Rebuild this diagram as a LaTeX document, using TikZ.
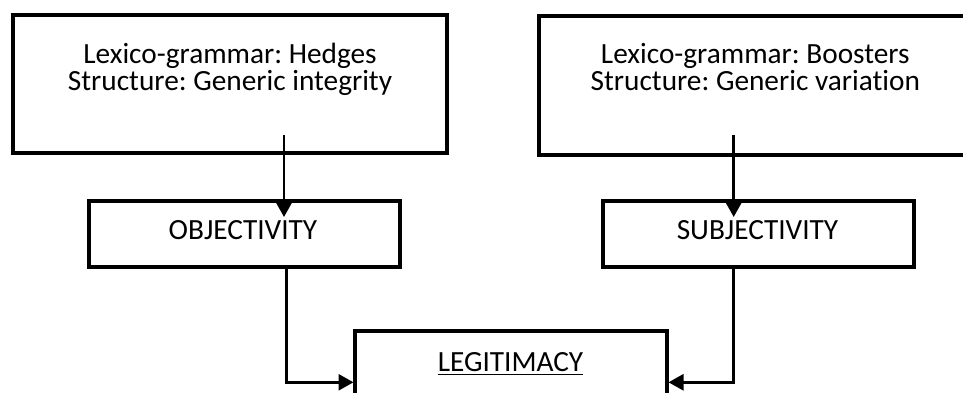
\documentclass[tikz,border=0pt]{standalone}
\usepackage{fontspec}
\setmainfont{Carlito}[Ligatures=NoCommon]
\usetikzlibrary{arrows.meta}
\frenchspacing
\begin{document}
\begin{tikzpicture}[x=1pt,y=1pt,
  boxstyle/.style={draw, line width=4pt, inner sep=0pt},
  txt/.style={inner sep=0pt, font=\fontsize{29.3}{27.4}\selectfont},
  conn/.style={line width=2.6pt, -{Triangle[length=15pt,width=16pt]}}]
\useasboundingbox (0,0) rectangle (963,-392);
\clip (0,0) rectangle (963,-392);
% boxes
\node[boxstyle, minimum width=434pt, minimum height=138.3pt] (A) at (230,-83.85) {};
\node[boxstyle, minimum width=433.3pt, minimum height=139pt] (B) at (755.35,-85.2) {};
\node[boxstyle, minimum width=311.5pt, minimum height=66.5pt] (O) at (244.25,-233.75) {};
\node[boxstyle, minimum width=311.6pt, minimum height=66.5pt] (S) at (758.5,-233.75) {};
\node[boxstyle, minimum width=312pt, minimum height=90pt] (L) at (510.85,-376.3) {};
% texts
\node[txt, anchor=base] (a1) at (230,-63.3) {Lexico-grammar: Hedges};
\node[txt, anchor=base] (a2) at (230,-90.7) {Structure: Generic integrity};
\node[txt, anchor=base] (b1) at (755.3,-63.3) {Lexico-grammar: Boosters};
\node[txt, anchor=base] (b2) at (755.3,-90.7) {Structure: Generic variation};
\node[txt, anchor=base] (ot) at (243,-239.3) {OBJECTIVITY};
\node[txt, anchor=base] (st) at (757.5,-239.3) {SUBJECTIVITY};
\node[txt, anchor=base] (lt) at (510.5,-371.7) {LEGITIMACY};
\draw[line width=1.6pt] ([yshift=-2.8pt]lt.base west) -- ([yshift=-2.8pt]lt.base east);
% connector points
\coordinate (aout) at (284,-135);
\coordinate (oin) at (284,-217);
\coordinate (bout) at (733.7,-135);
\coordinate (sin) at (733.7,-217);
\coordinate (lin) at (353.5,-382.3);
\coordinate (rin) at (668.5,-382.3);
\draw[conn] (aout) -- (oin);
\draw[conn] (bout) -- (sin);
\draw[conn] (O.south -| 286.7,0) |- (lin);
\draw[conn] (S.south -| sin) |- (rin);
\end{tikzpicture}
\end{document}
